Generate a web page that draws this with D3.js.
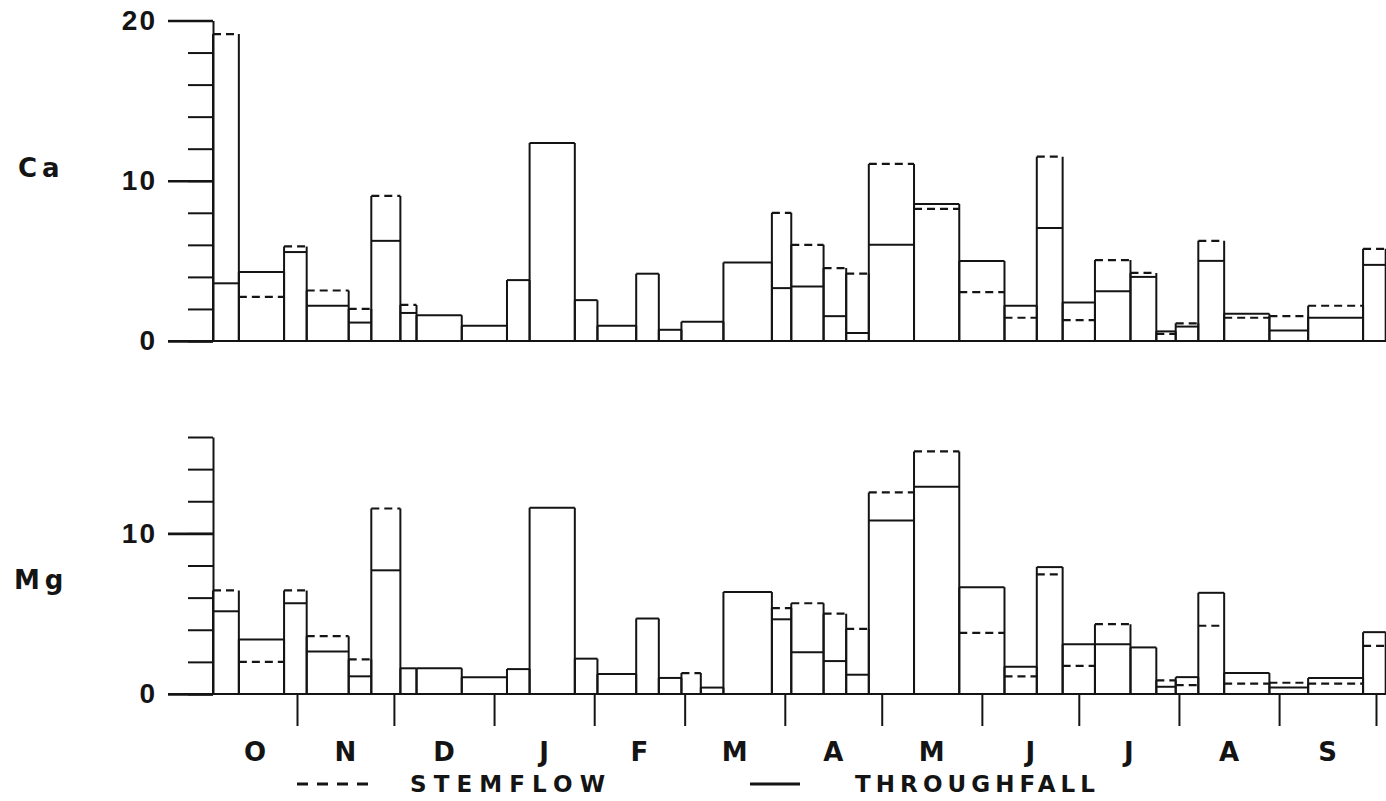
<!DOCTYPE html>
<html lang="en">
<head>
  <meta charset="UTF-8">
  <title>Ca and Mg in stemflow and throughfall</title>
  <style>
    * {
      box-sizing: border-box;
      margin: 0;
    }
    body {
      background: #fff;
    }
    svg {
      display: block;
      font-family: 'DejaVu Sans', sans-serif;
    }
    .axis path, .axis line {
      stroke: #141414;
      stroke-width: 2;
    }
    .axis.major line {
      stroke-width: 2.6;
    }
    .axis text {
      font-size: 28px;
      font-weight: bold;
      letter-spacing: 2px;
      fill: #141414;
    }
    .bar-side, .thr, .baseline {
      stroke: #141414;
      stroke-width: 2;
      fill: none;
    }
    .stem {
      stroke: #141414;
      stroke-width: 2.2;
      stroke-dasharray: 8,5;
      fill: none;
    }
    .panel-label {
      font-size: 26px;
      font-weight: bold;
      letter-spacing: 5px;
      fill: #141414;
    }
    .month {
      font-size: 26px;
      font-weight: bold;
      fill: #141414;
    }
    .legend text {
      font-size: 23px;
      font-weight: bold;
      fill: #141414;
    }
  </style>
</head>
<body>
  <svg></svg>
  <script src="https://cdnjs.cloudflare.com/ajax/libs/d3/7.8.5/d3.min.js"></script>
  <script>
    // collection periods (boundaries)
    const caDates = ['1969-10-06', '1969-10-14', '1969-10-28', '1969-11-04', '1969-11-17', '1969-11-24',
      '1969-12-03', '1969-12-08', '1969-12-22', '1970-01-05', '1970-01-12', '1970-01-26', '1970-02-02',
      '1970-02-14', '1970-02-21', '1970-02-28', '1970-03-13', '1970-03-28', '1970-04-03', '1970-04-13',
      '1970-04-20', '1970-04-27', '1970-05-11', '1970-05-25', '1970-06-08', '1970-06-18', '1970-06-26',
      '1970-07-06', '1970-07-17', '1970-07-25', '1970-07-31', '1970-08-07', '1970-08-15', '1970-08-29',
      '1970-09-10', '1970-09-27', '1970-10-04'];
    const caThroughfall = [3.6, 4.3, 5.55, 2.2, 1.15, 6.25, 1.75, 1.6, 0.95, 3.8, 12.35, 2.55, 0.95,
      4.2, 0.7, 1.2, 4.9, 3.3, 3.4, 1.55, 0.5, 6.0, 8.55, 5.0, 2.2, 7.05, 2.4, 3.1, 4.0, 0.6, 0.9,
      5.0, 1.7, 0.65, 1.45, 4.75];
    const caStemflow = [19.15, 2.75, 5.9, 3.15, 2.0, 9.05, 2.25, null, null, null, null, null, null,
      null, null, null, null, 8.0, 6.0, 4.55, 4.2, 11.05, 8.25, 3.05, 1.45, 11.5, 1.3, 5.05, 4.25,
      0.45, 1.1, 6.25, 1.45, 1.55, 2.2, 5.75];

    const mgDates = ['1969-10-06', '1969-10-14', '1969-10-28', '1969-11-04', '1969-11-17', '1969-11-24',
      '1969-12-03', '1969-12-08', '1969-12-22', '1970-01-05', '1970-01-12', '1970-01-26', '1970-02-02',
      '1970-02-14', '1970-02-21', '1970-02-28', '1970-03-06', '1970-03-13', '1970-03-28', '1970-04-03',
      '1970-04-13', '1970-04-20', '1970-04-27', '1970-05-11', '1970-05-25', '1970-06-08', '1970-06-18',
      '1970-06-26', '1970-07-06', '1970-07-17', '1970-07-25', '1970-07-31', '1970-08-07', '1970-08-15',
      '1970-08-29', '1970-09-10', '1970-09-27', '1970-10-04'];
    const mgThroughfall = [5.15, 3.4, 5.65, 2.65, 1.1, 7.7, 1.6, 1.6, 1.05, 1.55, 11.6, 2.2, 1.25,
      4.7, 1.0, null, 0.4, 6.35, 4.65, 2.6, 2.05, 1.2, 10.8, 12.9, 6.65, 1.7, 7.9, 3.1, 3.1, 2.9,
      0.45, 1.05, 6.3, 1.3, 0.4, 1.0, 3.85];
    const mgStemflow = [6.45, 2.0, 6.45, 3.6, 2.15, 11.55, null, null, null, null, null, null, null,
      null, null, 1.3, null, null, 5.35, 5.65, 5.0, 4.05, 12.55, 15.1, 3.8, 1.1, 7.45, 1.75, 4.35,
      null, 0.85, 0.55, 4.25, 0.65, 0.7, 0.65, 3.0];

    const monthLabels = ['O', 'N', 'D', 'J', 'F', 'M', 'A', 'M', 'J', 'J', 'A', 'S'];
    const axisStart = '1969-10-06';
    const axisEnd = '1970-10-01';

    const width = 1386;
    const height = 801;
    const parse = d3.timeParse('%Y-%m-%d');

    const svg = d3.select('svg')
      .attr('width', width)
      .attr('height', height)
      .attr('viewBox', '0 0 ' + width + ' ' + height);

    const x = d3.scaleTime()
      .domain([parse(axisStart), parse(axisEnd)])
      .range([213, 1376]);

    function drawPanel(opts) {
      const y = d3.scaleLinear().domain([0, opts.max]).range([opts.bottom, opts.top]);
      const g = svg.append('g').attr('class', 'panel');

      const bars = opts.thr.map((t, i) => ({
        x0: parse(opts.dates[i]),
        x1: parse(opts.dates[i + 1]),
        t: t,
        s: opts.stem[i]
      }));

      // baseline runs from the 0 tick to the right edge
      g.append('line')
        .attr('class', 'baseline')
        .attr('x1', x.range()[0] - 45)
        .attr('x2', width)
        .attr('y1', y(0))
        .attr('y2', y(0));

      // minor ticks every 2 units + the vertical axis line
      g.append('g')
        .attr('class', 'axis minor')
        .attr('transform', 'translate(' + x.range()[0] + ',0)')
        .call(d3.axisLeft(y)
          .tickValues(d3.range(0, opts.max + 1, 2))
          .tickSize(25)
          .tickSizeOuter(0)
          .tickFormat(''));

      g.append('g')
        .attr('class', 'axis major')
        .attr('transform', 'translate(' + x.range()[0] + ',0)')
        .call(d3.axisLeft(y)
          .tickValues(opts.majors)
          .tickSize(45)
          .tickPadding(11)
          .tickFormat(d3.format('d')))
        .call(a => a.select('.domain').remove());

      g.selectAll('.bar-side')
        .data(bars)
        .join('path')
        .attr('class', 'bar-side')
        .attr('d', d => {
          const top = y(Math.max(d.t || 0, d.s || 0));
          return 'M' + x(d.x0) + ',' + y(0) + 'V' + top +
            'M' + x(d.x1) + ',' + y(0) + 'V' + top;
        });

      g.selectAll('.thr')
        .data(bars.filter(d => d.t != null))
        .join('line')
        .attr('class', 'thr')
        .attr('x1', d => x(d.x0))
        .attr('x2', d => x(d.x1))
        .attr('y1', d => y(d.t))
        .attr('y2', d => y(d.t));

      g.selectAll('.stem')
        .data(bars.filter(d => d.s != null))
        .join('line')
        .attr('class', 'stem')
        .attr('x1', d => x(d.x0))
        .attr('x2', d => x(d.x1))
        .attr('y1', d => y(d.s))
        .attr('y2', d => y(d.s));

      g.append('text')
        .attr('class', 'panel-label')
        .attr('x', opts.labelX)
        .attr('y', opts.labelY)
        .attr('dy', '0.35em')
        .text(opts.name);

      return y;
    }

    drawPanel({
      name: 'Ca', dates: caDates, thr: caThroughfall, stem: caStemflow,
      max: 20, majors: [0, 10, 20], top: 20.5, bottom: 341, labelX: 18, labelY: 168
    });

    const yMg = drawPanel({
      name: 'Mg', dates: mgDates, thr: mgThroughfall, stem: mgStemflow,
      max: 16, majors: [0, 10], top: 437, bottom: 694, labelX: 14, labelY: 580
    });

    // month ticks under the lower panel
    const monthStarts = d3.timeMonth.range(d3.timeMonth.ceil(x.domain()[0]), d3.timeDay.offset(x.domain()[1], 1));
    svg.append('g')
      .attr('class', 'axis months')
      .attr('transform', 'translate(0,' + yMg(0) + ')')
      .call(d3.axisBottom(x)
        .tickValues(monthStarts)
        .tickSize(32)
        .tickFormat(''))
      .call(a => a.select('.domain').remove());

    const edges = [x.domain()[0]].concat(monthStarts);
    svg.append('g')
      .selectAll('text')
      .data(monthLabels)
      .join('text')
      .attr('class', 'month')
      .attr('x', (d, i) => (x(edges[i]) + x(edges[i + 1])) / 2)
      .attr('y', 752)
      .attr('dy', '0.36em')
      .attr('text-anchor', 'middle')
      .text(d => d);

    // legend
    const legendY = 784;
    const legend = svg.append('g').attr('class', 'legend');
    legend.append('line')
      .attr('x1', 297).attr('x2', 370)
      .attr('y1', legendY).attr('y2', legendY)
      .attr('stroke', '#141414')
      .attr('stroke-width', 3)
      .attr('stroke-dasharray', '11,9');
    legend.append('text')
      .attr('x', 410).attr('y', legendY).attr('dy', '0.36em')
      .attr('textLength', 195).attr('lengthAdjust', 'spacing')
      .text('STEMFLOW');
    legend.append('line')
      .attr('x1', 750).attr('x2', 800)
      .attr('y1', legendY).attr('y2', legendY)
      .attr('stroke', '#141414')
      .attr('stroke-width', 3);
    legend.append('text')
      .attr('x', 855).attr('y', legendY).attr('dy', '0.36em')
      .attr('textLength', 240).attr('lengthAdjust', 'spacing')
      .text('THROUGHFALL');
  </script>
</body>
</html>
